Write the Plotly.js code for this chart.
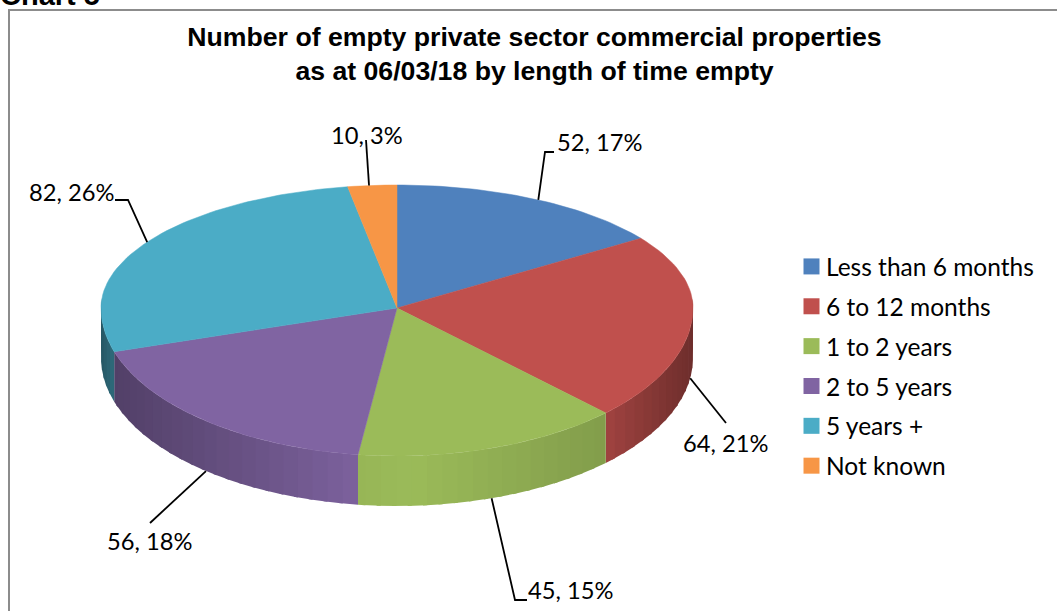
<!DOCTYPE html>
<html><head><meta charset="utf-8">
<script src="https://cdn.plot.ly/plotly-3.0.1.min.js"></script>
<style>html,body{margin:0;padding:0;background:#fff;overflow:hidden}#c{width:1057px;height:611px}</style>
</head><body><div id="c"></div>
<script>
const categories = ["Less than 6 months","6 to 12 months","1 to 2 years","2 to 5 years","5 years +","Not known"];
const values = [52,64,45,56,82,10];
const percents = [17,21,15,18,26,3];
const colors = ["#4F81BD","#C0504D","#9BBB59","#8064A2","#4BACC6","#F79646"];

// Projection of the tilted disc into the pixel-scaled axes (far half is foreshortened more than the near half)
const CX=397, CY=308, RX=296, RY_BACK=123, RY_FRONT=148, BACK_WARP=0.82, ANCHOR_WARP=0.93, DEPTH=50;
function proj(deg, warp){
  const t=deg*Math.PI/180;
  const back=Math.cos(t)>0;
  const a = back ? Math.atan2(warp*Math.sin(t),Math.cos(t)) : t;
  const u=Math.sin(a), v=Math.cos(a);
  return {x:CX+RX*u, y:CY-(back?RY_BACK:RY_FRONT)*v, v:v};
}
// Side wall brightness by horizontal offset from the pie centre
const shadeT=[-1,-0.95,-0.13,0.05,0.7,1], shadeF=[0.5,0.64,0.97,1,0.84,0.57];
function shade(hex,x){
  const t=(x-CX)/RX; let f=shadeF[shadeF.length-1];
  if(t<=shadeT[0]) f=shadeF[0];
  else for(let i=0;i<shadeT.length-1;i++) if(t>=shadeT[i]&&t<=shadeT[i+1]){
    f=shadeF[i]+(shadeF[i+1]-shadeF[i])*(t-shadeT[i])/(shadeT[i+1]-shadeT[i]);break;}
  const n=parseInt(hex.slice(1),16);
  return `rgb(${Math.round((n>>16&255)*f)},${Math.round((n>>8&255)*f)},${Math.round((n&255)*f)})`;
}
const total=values.reduce((a,b)=>a+b,0);
const traces=[]; let acc=0; const slices=[];
values.forEach((val)=>{ const a0=acc/total*360; acc+=val; slices.push([a0,acc/total*360]); });

// side walls
const STEP=3, OVERLAP=0.8;
slices.forEach(([a0,a1],i)=>{
  for(let a=a0;a<a1-1e-6;a+=STEP){
    const b=Math.min(a+STEP,a1), e=Math.min(b+OVERLAP,a1), p=proj(a,1), q=proj(b,1);
    if(Math.cos(a*Math.PI/180)>0.05&&Math.cos(b*Math.PI/180)>0.05) continue;
    const xs=[],ys=[],m=3;
    for(let k=0;k<=m;k++){const r=proj(a+(e-a)*k/m,1);xs.push(r.x);ys.push(r.y);}
    for(let k=m;k>=0;k--){const r=proj(a+(e-a)*k/m,1);xs.push(r.x);ys.push(r.y+DEPTH);}
    xs.push(xs[0]);ys.push(ys[0]);
    traces.push({type:"scatter",mode:"lines",x:xs,y:ys,
      fill:"toself",fillcolor:shade(colors[i],(p.x+q.x)/2),line:{width:0},
      showlegend:false,hoverinfo:"skip"});
  }
});
// top faces
slices.forEach(([a0,a1],i)=>{
  const xs=[CX],ys=[CY];
  const n=Math.max(4,Math.ceil((a1-a0)/1.5));
  for(let k=0;k<=n;k++){const p=proj(a0+(a1-a0)*k/n,BACK_WARP);xs.push(p.x);ys.push(p.y);}
  xs.push(CX);ys.push(CY);
  traces.push({type:"scatter",mode:"lines",x:xs,y:ys,fill:"toself",fillcolor:colors[i],
    line:{color:colors[i],width:0.5},showlegend:false,name:categories[i],
    text:`${categories[i]}: ${values[i]}, ${percents[i]}%`,hoverinfo:"text",hoveron:"fills"});
});
// data label placement: text anchor, elbow, whether the leader starts at the wall bottom
const labelPlace=[
 {tx:557,ty:142,elbow:[[554,152],[545,152]],wall:false},
 {tx:683,ty:443,elbow:[[726,423]],wall:true},
 {tx:528,ty:590,elbow:[[527,600],[515,600]],wall:true},
 {tx:107,ty:541,elbow:[[150,523]],wall:true},
 {tx:29,ty:192,elbow:[[115,200],[128,200]],wall:false},
 {tx:331,ty:135,elbow:[[366,140]],wall:false}
];
const LABEL_FONT={family:"Lato, Carlito, sans-serif",size:23.7,color:"#000"};
const annotations=[];
slices.forEach(([a0,a1],i)=>{
  const L=labelPlace[i], m=proj((a0+a1)/2,ANCHOR_WARP);
  const xs=L.elbow.map(e=>e[0]).concat([m.x]);
  const ys=L.elbow.map(e=>e[1]).concat([m.y+(L.wall?DEPTH:0)]);
  traces.push({type:"scatter",mode:"lines",x:xs,y:ys,line:{color:"#000",width:1.8},showlegend:false,hoverinfo:"skip"});
  annotations.push({xref:"x",yref:"y",x:L.tx,y:L.ty,xanchor:"left",yanchor:"middle",showarrow:false,
    text:`${values[i]}, ${percents[i]}%`,font:LABEL_FONT,borderpad:0,xshift:-1});
});
// legend entries
categories.forEach((c,i)=>{
  traces.push({type:"scatter",mode:"markers",x:[-200],y:[-200],name:c,legendgroup:c,
    marker:{symbol:"square",size:16,color:colors[i]},showlegend:true,hoverinfo:"skip"});
});
annotations.push({xref:"x",yref:"y",x:1,y:12,xanchor:"left",yanchor:"bottom",showarrow:false,
  text:"<b>Chart 5</b>",font:{family:"Liberation Sans, Arial, sans-serif",size:29,color:"#000"},borderpad:0,xshift:-2});

const layout={
  width:1057,height:611,margin:{l:0,r:0,t:0,b:0,pad:0},
  paper_bgcolor:"#fff",plot_bgcolor:"#fff",
  xaxis:{range:[0,1057],visible:false,fixedrange:true},
  yaxis:{range:[611,0],visible:false,fixedrange:true},
  title:{text:"<b>Number of empty private sector commercial properties<br>as at 06/03/18 by length of time empty</b>",
    x:0.5057,xref:"paper",xanchor:"center",y:0.963,yref:"paper",yanchor:"top",
    pad:{t:23},font:{family:"Liberation Sans, Arial, sans-serif",size:26.65,color:"#000"}},
  legend:{x:786/1057,y:1-244/611,xanchor:"left",yanchor:"top",tracegroupgap:5,
    font:{family:"Lato, Carlito, sans-serif",size:24.5,color:"#000"},bgcolor:"rgba(0,0,0,0)",
    itemclick:false,itemdoubleclick:false,traceorder:"grouped"},
  shapes:[{type:"rect",xref:"x",yref:"y",x0:9,y0:10,x1:1200,y1:800,line:{color:"#8C8C8C",width:2},fillcolor:"rgba(0,0,0,0)",layer:"below"}],
  annotations:annotations,showlegend:true,hovermode:"closest"
};
Plotly.newPlot("c",traces,layout,{displayModeBar:false,responsive:false}).then(()=>{
  document.querySelectorAll("#c .legend .legendpoints").forEach(g=>{g.setAttribute("transform","translate(5.5,0)");});
});
</script></body></html>
